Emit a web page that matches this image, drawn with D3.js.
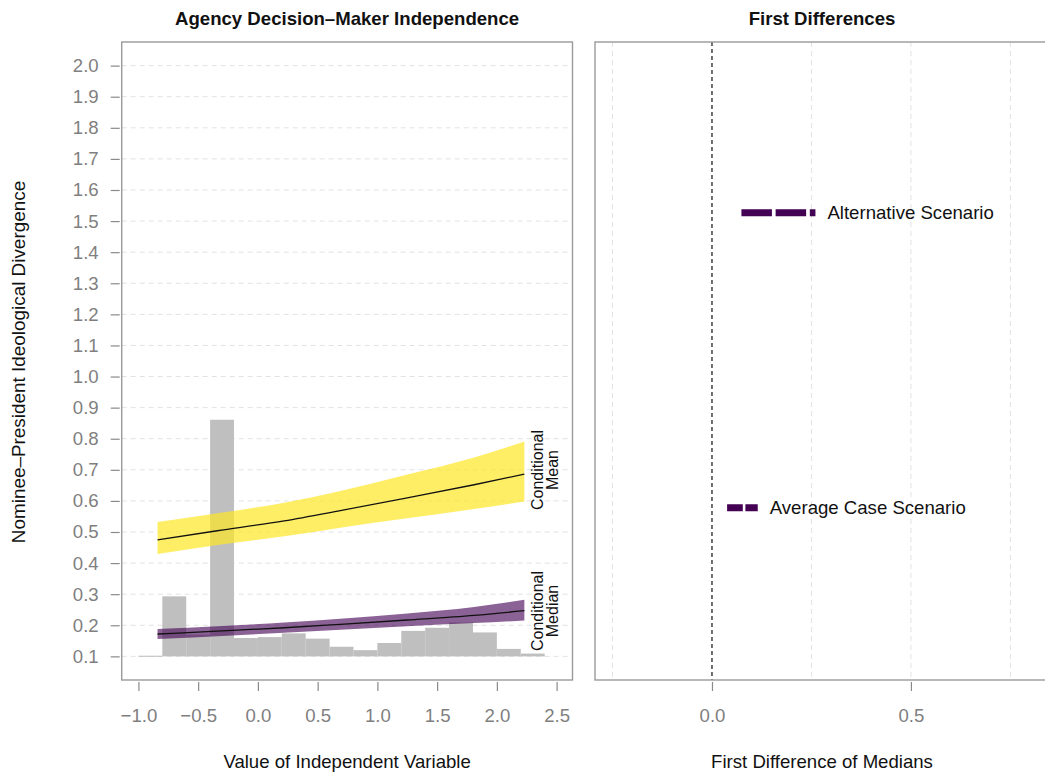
<!DOCTYPE html>
<html>
<head>
<meta charset="utf-8">
<script src="https://cdn.jsdelivr.net/npm/d3@7"></script>
<style>
  html, body { margin: 0; padding: 0; background: #fff; }
  svg { display: block; font-family: "Liberation Sans", Arial, sans-serif; }
</style>
</head>
<body>
<svg id="chart" width="1045" height="772"></svg>
<script>
// ---- data -------------------------------------------------------------
// histogram of the independent variable (bin lower edge, scaled bar top)
const binLow   = [-1.0, -0.8, -0.6, -0.4, -0.2, 0.0, 0.2, 0.4, 0.6, 0.8, 1.0, 1.2, 1.4, 1.6, 1.8, 2.0, 2.2];
const binTop   = [0.102, 0.293, 0.170, 0.861, 0.159, 0.162, 0.174, 0.157, 0.131, 0.120, 0.143, 0.182, 0.192, 0.209, 0.177, 0.124, 0.109];
const binWidth = 0.2;

// predicted values over the independent variable
const predX      = [-0.84, -0.34, 0.22, 0.69, 1.25, 1.81, 2.23];
const meanFit    = [0.475, 0.504, 0.536, 0.569, 0.610, 0.652, 0.686];
const meanLow    = [0.429, 0.458, 0.486, 0.514, 0.544, 0.574, 0.598];
const meanHigh   = [0.532, 0.560, 0.594, 0.632, 0.685, 0.740, 0.791];
const medianFit  = [0.172, 0.181, 0.192, 0.203, 0.217, 0.232, 0.247];
const medianLow  = [0.156, 0.165, 0.176, 0.186, 0.197, 0.207, 0.215];
const medianHigh = [0.188, 0.197, 0.209, 0.221, 0.238, 0.259, 0.282];

// first differences of medians (interval ends) and their row height
const scenarioNames = ["Alternative Scenario", "Average Case Scenario"];
const scenarioLow   = [0.074, 0.038];
const scenarioHigh  = [0.260, 0.115];
const scenarioRow   = [1.527, 0.578];
const scenarioDash  = ["30.5 3.7", "15.7 2.6"];

// axis ticks
const yTicks  = ["0.1","0.2","0.3","0.4","0.5","0.6","0.7","0.8","0.9","1.0",
                 "1.1","1.2","1.3","1.4","1.5","1.6","1.7","1.8","1.9","2.0"];
const xTicksL = ["-1.0","-0.5","0.0","0.5","1.0","1.5","2.0","2.5"];
const xTicksR = ["0.0","0.5"];
const xGridR  = [-0.25, 0.25, 0.5, 0.75];

// ---- layout -----------------------------------------------------------
const svg = d3.select("#chart");
const L = { x0: 121.7, x1: 572.5, y0: 42, y1: 680 };
const R = { x0: 595, x1: 1049, y0: 42, y1: 680 };

const xL = d3.scaleLinear().domain([-1.14, 2.633]).range([L.x0, L.x1]);
const yS = d3.scaleLinear().domain([0.024, 2.076]).range([L.y1, L.y0]);
const xR = d3.scaleLinear().domain([-0.294, 0.847]).range([R.x0, R.x1]);

const boxColor = "#9a9a9a";
const tickColor = "#8a8a8a";
const labelColor = "#7f7f7f";
const gridColor = "#e2e2e2";
const fs = 18.6;

// ---- left panel -------------------------------------------------------
const left = svg.append("g");

left.append("g").selectAll("line").data(yTicks).join("line")
  .attr("x1", L.x0).attr("x2", L.x1)
  .attr("y1", d => yS(+d)).attr("y2", d => yS(+d))
  .attr("stroke", gridColor).attr("stroke-width", 1)
  .attr("stroke-dasharray", "5 4");

// histogram
left.append("g").selectAll("rect").data(binLow).join("rect")
  .attr("x", d => xL(d))
  .attr("width", d => xL(d + binWidth) - xL(d))
  .attr("y", (d, i) => yS(binTop[i]))
  .attr("height", (d, i) => Math.max(1, yS(0.1) - yS(binTop[i])))
  .attr("fill", "#bfbfbf");

const band = (lo, hi) => d3.area()
  .x((d, i) => xL(predX[i]))
  .y0((d, i) => yS(lo[i]))
  .y1((d, i) => yS(hi[i]))
  .curve(d3.curveMonotoneX)(predX);
const fit = vals => d3.line()
  .x((d, i) => xL(predX[i]))
  .y((d, i) => yS(vals[i]))
  .curve(d3.curveMonotoneX)(predX);

left.append("path").attr("d", band(meanLow, meanHigh))
  .attr("fill", "#FDE725").attr("fill-opacity", 0.7);
left.append("path").attr("d", fit(meanFit))
  .attr("fill", "none").attr("stroke", "#111").attr("stroke-width", 1.3);

left.append("path").attr("d", band(medianLow, medianHigh))
  .attr("fill", "#440154").attr("fill-opacity", 0.62);
left.append("path").attr("d", fit(medianFit))
  .attr("fill", "none").attr("stroke", "#111").attr("stroke-width", 1.3);

// series labels at the right end of the fits
const sideLabel = (lines, cy) => {
  lines.forEach((t, k) => {
    left.append("text")
      .attr("transform", `translate(${542.7 + k * 15.5},${cy}) rotate(-90)`)
      .attr("text-anchor", "middle")
      .attr("font-size", 16).attr("fill", "#111")
      .text(t);
  });
};
sideLabel(["Conditional", "Mean"], 470);
sideLabel(["Conditional", "Median"], 611);

left.append("rect")
  .attr("x", L.x0).attr("y", L.y0)
  .attr("width", L.x1 - L.x0).attr("height", L.y1 - L.y0)
  .attr("fill", "none").attr("stroke", boxColor).attr("stroke-width", 1.4);

// axes
const styleAxis = g => {
  g.select(".domain").remove();
  g.selectAll(".tick line").attr("stroke", tickColor).attr("stroke-width", 1.2);
  g.selectAll(".tick text").attr("fill", labelColor)
    .attr("font-size", fs).attr("font-family", "Liberation Sans, Arial, sans-serif");
};

svg.append("g")
  .attr("transform", `translate(${L.x0 - 2},0)`)
  .call(d3.axisLeft(yS).tickValues(yTicks.map(Number)).tickSize(9).tickPadding(12)
        .tickFormat((d, i) => yTicks[i]))
  .call(styleAxis);

svg.append("g")
  .attr("transform", `translate(0,${L.y1 + 2})`)
  .call(d3.axisBottom(xL).tickValues(xTicksL.map(Number)).tickSize(9).tickPadding(18)
        .tickFormat((d, i) => xTicksL[i].replace("-", "\u2212")))
  .call(styleAxis);

svg.append("text")
  .attr("x", (L.x0 + L.x1) / 2).attr("y", 25)
  .attr("text-anchor", "middle").attr("font-weight", "bold")
  .attr("font-size", 18.6).attr("fill", "#111")
  .text("Agency Decision\u2013Maker Independence");

svg.append("text")
  .attr("x", (L.x0 + L.x1) / 2).attr("y", 768)
  .attr("text-anchor", "middle").attr("font-size", fs).attr("fill", "#111")
  .text("Value of Independent Variable");

svg.append("text")
  .attr("transform", `translate(25,362) rotate(-90)`)
  .attr("text-anchor", "middle").attr("font-size", 18.9).attr("fill", "#111")
  .text("Nominee\u2013President Ideological Divergence");

// ---- right panel ------------------------------------------------------
const right = svg.append("g");

right.append("g").selectAll("line").data(xGridR).join("line")
  .attr("x1", d => xR(d)).attr("x2", d => xR(d))
  .attr("y1", R.y0).attr("y2", R.y1)
  .attr("stroke", gridColor).attr("stroke-width", 1)
  .attr("stroke-dasharray", "5 4");

// reference line at zero difference
right.append("line")
  .attr("x1", xR(0)).attr("x2", xR(0))
  .attr("y1", R.y0).attr("y2", R.y1)
  .attr("stroke", "#111").attr("stroke-width", 1.2)
  .attr("stroke-dasharray", "4 3");

right.append("g").selectAll("line").data(scenarioNames).join("line")
  .attr("x1", (d, i) => xR(scenarioLow[i]))
  .attr("x2", (d, i) => xR(scenarioHigh[i]))
  .attr("y1", (d, i) => yS(scenarioRow[i]))
  .attr("y2", (d, i) => yS(scenarioRow[i]))
  .attr("stroke", "#440154").attr("stroke-width", 7)
  .attr("stroke-dasharray", (d, i) => scenarioDash[i]);

right.append("g").selectAll("text").data(scenarioNames).join("text")
  .attr("x", (d, i) => xR(scenarioHigh[i]) + 12)
  .attr("y", (d, i) => yS(scenarioRow[i]))
  .attr("dy", "0.36em")
  .attr("font-size", fs).attr("fill", "#111")
  .text(d => d);

right.append("rect")
  .attr("x", R.x0).attr("y", R.y0)
  .attr("width", R.x1 - R.x0).attr("height", R.y1 - R.y0)
  .attr("fill", "none").attr("stroke", boxColor).attr("stroke-width", 1.4);

svg.append("g")
  .attr("transform", `translate(0,${R.y1 + 2})`)
  .call(d3.axisBottom(xR).tickValues(xTicksR.map(Number)).tickSize(9).tickPadding(18)
        .tickFormat((d, i) => xTicksR[i]))
  .call(styleAxis);

svg.append("text")
  .attr("x", (R.x0 + R.x1) / 2).attr("y", 25)
  .attr("text-anchor", "middle").attr("font-weight", "bold")
  .attr("font-size", 18.6).attr("fill", "#111")
  .text("First Differences");

svg.append("text")
  .attr("x", (R.x0 + R.x1) / 2).attr("y", 768)
  .attr("text-anchor", "middle").attr("font-size", fs).attr("fill", "#111")
  .text("First Difference of Medians");
</script>
</body>
</html>
